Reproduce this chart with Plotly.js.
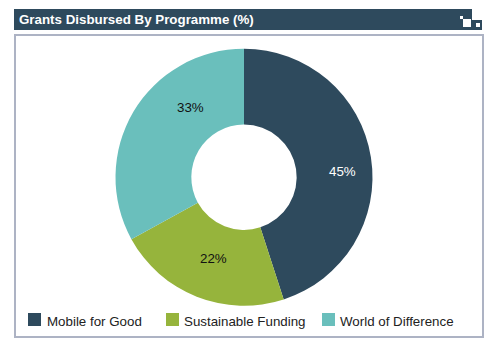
<!DOCTYPE html>
<html>
<head>
<meta charset="utf-8">
<script src="https://cdn.plot.ly/plotly-3.0.1.min.js"></script>
<style>html,body{margin:0;padding:0;background:#fff}#chart{width:485px;height:338px}</style>
</head>
<body>
<div id="chart"></div>
<script>
const programmes = ['Mobile for Good', 'Sustainable Funding', 'World of Difference'];
const shares = [45, 22, 33];
const sliceColors = ['#2e4a5d', '#96b43c', '#6abfbc'];
const labelColors = ['#ffffff', '#111111', '#111111'];
const chartTitle = 'Grants Disbursed By Programme (%)';

const legendKeyX = [28, 166, 322];
const legendTextX = [46, 183, 339];
const sliceLabelAnchors = [[342.5, 171], [213.5, 258], [190, 107.5]];

const W = 485, H = 338;
const FONT = 'Liberation Sans, Arial, sans-serif';
const px = v => v / W;
const py = v => 1 - v / H;
const rect = (x0, y0, x1, y1, fill, line) => ({
  type: 'rect', xref: 'paper', yref: 'paper', layer: 'below',
  x0: px(x0), x1: px(x1), y0: py(y0), y1: py(y1),
  fillcolor: fill, line: line ? {color: line, width: 2} : {width: 0}
});
const label = (text, x, y, xanchor, size, color) => ({
  text, xref: 'paper', yref: 'paper', x: px(x), y: py(y),
  xanchor, yanchor: 'middle', showarrow: false, borderpad: 0,
  font: {family: FONT, size, color}
});

const shapes = [
  rect(15, 35, 483, 337, '#ffffff', '#adb3c4'),
  rect(14, 9, 472, 30, sliceColors[0]),
  rect(472, 20, 482, 30, sliceColors[0]),
  Object.assign(rect(460, 16, 463, 19, '#ffffff'), {layer: 'above'}),
  Object.assign(rect(463, 19, 471, 27, '#ffffff'), {layer: 'above'}),
  Object.assign(rect(476, 23, 480, 27, '#ffffff'), {layer: 'above'})
];

const annotations = [label('<b>' + chartTitle + '</b>', 18, 19.5, 'left', 13.33, '#ffffff')];

// Legend row: one key and one label per programme
programmes.forEach((name, i) => {
  shapes.push(rect(legendKeyX[i], 313, legendKeyX[i] + 13, 326, sliceColors[i]));
  annotations.push(label(name, legendTextX[i], 321.5, 'left', 13.33, '#222222'));
});

// Percentage labels sit at fixed anchors on their slices
shares.forEach((value, i) => {
  annotations.push(label(value + '%', sliceLabelAnchors[i][0], sliceLabelAnchors[i][1], 'center', 13.33, labelColors[i]));
});

Plotly.newPlot('chart', [{
  type: 'pie',
  labels: programmes,
  values: shares,
  marker: {colors: sliceColors, line: {width: 0}},
  hole: 0.41,
  sort: false,
  direction: 'clockwise',
  rotation: 0,
  textinfo: 'none',
  domain: {x: [115.5 / W, 372.5 / W], y: [1 - 306 / H, 1 - 48.5 / H]},
  hoverinfo: 'label+percent'
}], {
  width: W, height: H,
  margin: {l: 0, r: 0, t: 0, b: 0},
  paper_bgcolor: '#ffffff',
  showlegend: false,
  shapes: shapes,
  annotations: annotations
}, {displayModeBar: false});
</script>
</body>
</html>
